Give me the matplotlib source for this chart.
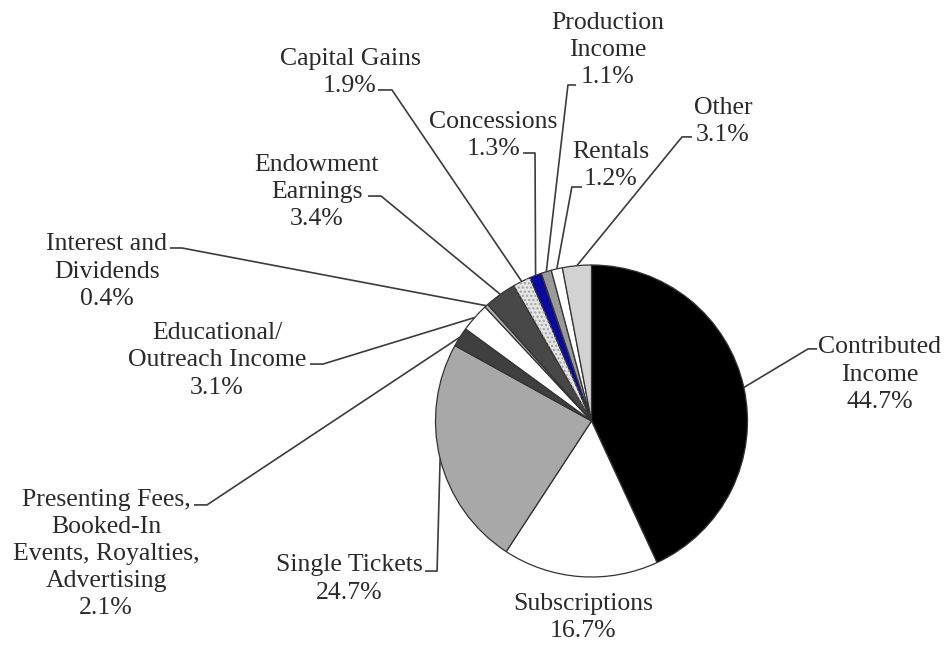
import numpy as np
import matplotlib
matplotlib.use("Agg")
import matplotlib.pyplot as plt
from matplotlib.patches import Wedge

# Revenue sources (share of total, %), drawn clockwise from 12 o'clock
categories = [
    "Contributed\nIncome",
    "Subscriptions",
    "Single Tickets",
    "Presenting Fees,\nBooked-In\nEvents, Royalties,\nAdvertising",
    "Educational/\nOutreach Income",
    "Interest and\nDividends",
    "Endowment\nEarnings",
    "Capital Gains",
    "Concessions",
    "Production\nIncome",
    "Rentals",
    "Other",
]
shares = [44.7, 16.7, 24.7, 2.1, 3.1, 0.4, 3.4, 1.9, 1.3, 1.1, 1.2, 3.1]
pct_labels = ["44.7%", "16.7%", "24.7%", "2.1%", "3.1%", "0.4%",
              "3.4%", "1.9%", "1.3%", "1.1%", "1.2%", "3.1%"]

colors = ["#000000", "#ffffff", "#a8a8a8", "#3f3f3f", "#ffffff", "#b0b0b0",
          "#474747", "#e4e4e4", "#0a0a9e", "#9a9a9a", "#ffffff", "#d2d2d2"]

# Label block centres and leader-line elbows (pie radius = 1)
label_pos = [(1.849, 0.298), (-0.054, -1.260), (-1.554, -1.013), (-3.112, -0.853),
             (-2.401, 0.388), (-3.106, 0.958), (-1.760, 1.468), (-1.548, 2.234),
             (-0.631, 1.833), (0.106, 2.378), (0.125, 1.635), (0.843, 1.920)]
leader_pts = [
    [(1.388, 0.462), (1.446, 0.462)],
    None,
    [(-0.990, -0.962), (-1.067, -0.962)],
    [(-2.465, -0.538), (-2.548, -0.538)],
    [(-1.721, 0.365), (-1.804, 0.365)],
    [(-2.625, 1.109), (-2.702, 1.109)],
    [(-1.349, 1.442), (-1.433, 1.442)],
    [(-1.279, 2.122), (-1.369, 2.122)],
    [(-0.362, 1.718), (-0.439, 1.718)],
    [(-0.151, 2.154), (-0.099, 2.154)],
    [(-0.126, 1.500), (-0.061, 1.500)],
    [(0.580, 1.821), (0.644, 1.821)],
]

W, H = 944, 646
scale = 156.0           # pixels per pie radius
cx, cy = 591.5, 421.0   # pie centre in pixels

fig = plt.figure(figsize=(W / 100, H / 100), dpi=100)
ax = fig.add_axes([0, 0, 1, 1])

wedges, _ = ax.pie(shares, colors=colors, startangle=90, counterclock=False,
                   radius=1.0, center=(0, 0),
                   wedgeprops=dict(edgecolor="#333333", linewidth=0.9))

# speckled texture on the capital-gains slice
cg = wedges[7]
ax.add_patch(Wedge((0, 0), 1.0, cg.theta1, cg.theta2, facecolor="none",
                   edgecolor="#a0a0a0", linewidth=0, hatch="...."))

font = dict(family=["Liberation Serif", "DejaVu Serif"], size=18.5, color="#2a2a2a")

for w, cat, pct, pos, pts in zip(wedges, categories, pct_labels, label_pos, leader_pts):
    ax.text(pos[0], pos[1], f"{cat}\n{pct}", ha="center", va="center",
            multialignment="center", linespacing=1.3, **font)
    if pts is None:
        continue
    mid = np.deg2rad((w.theta1 + w.theta2) / 2)
    start = (np.cos(mid), np.sin(mid))
    xs = [start[0]] + [p[0] for p in pts]
    ys = [start[1]] + [p[1] for p in pts]
    ax.plot(xs, ys, color="#3c3c3c", linewidth=1.2, solid_capstyle="butt")

ax.set_xlim(-cx / scale, (W - cx) / scale)
ax.set_ylim(-(H - cy) / scale, cy / scale)
ax.set_aspect("equal")
ax.axis("off")

fig.savefig("out.png", dpi=100, facecolor="white")
